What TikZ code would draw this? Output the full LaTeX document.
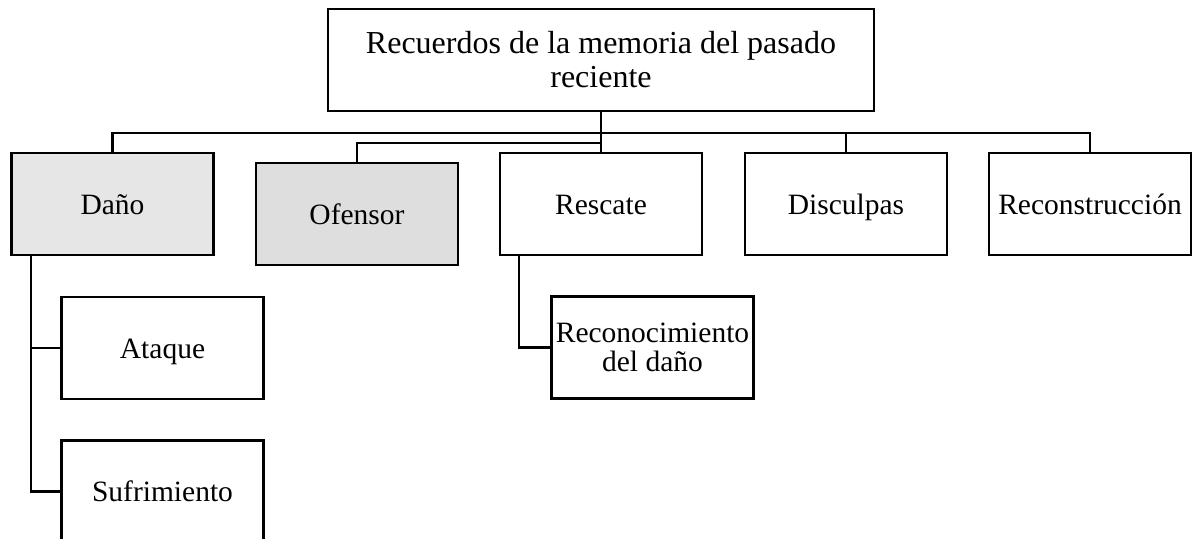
\documentclass[tikz,border=0pt]{standalone}
\usepackage{fontspec}
\setmainfont{Liberation Serif}
\definecolor{grisA}{HTML}{E6E6E6}
\definecolor{grisB}{HTML}{DEDEDE}
\begin{document}
\begin{tikzpicture}[x=1pt,y=-1pt,line width=2.2pt]
  \tikzstyle{caja}=[rectangle,draw=black,line width=2.6pt,minimum width=202pt,minimum height=102pt,inner sep=0pt,align=center,font=\fontsize{29.5}{29}\selectfont]
  \tikzstyle{linea}=[text height=20pt,text depth=0pt]
  \useasboundingbox (0,0) rectangle (1193,538);
  \clip (0,0) rectangle (1193,538);

  \node[caja,minimum width=546pt,font=\fontsize{32}{34}\selectfont] (A_0) at (601,60) {Recuerdos de la memoria del pasado\\reciente};
  \node[caja,linea,fill=grisA] (A_1) at (112.5,204) {Daño};
  \node[caja,linea,fill=grisB] (A_2) at (357,214)   {Ofensor};
  \node[caja,linea] (A_3) at (601,204)  {Rescate};
  \node[caja,linea] (A_4) at (846,204)  {Disculpas};
  \node[caja,linea] (A_5) at (1090,204) {Reconstrucción};

  \node[caja,linea] (B_1) at (162.5,348)   {Ataque};
  \node[caja,linea] (B_2) at (162.5,491.5) {Sufrimiento};
  \node[caja] (C_1) at (652.5,347.5) {Reconocimiento\\del daño};

  \coordinate (bus) at (601,133);
  \coordinate (bus2) at (601,143);
  \draw (A_0) -- (A_3);
  \draw (A_1.north) |- (bus) -| (A_5.north);
  \draw (A_4.north) -- (A_4.north |- bus);
  \draw (A_2.north) |- (bus2);

  \draw ([xshift=21pt]A_1.south west) |- (B_1.west);
  \draw ([xshift=21pt]A_1.south west) |- (B_2.west);
  \draw ([xshift=20pt]A_3.south west) |- (C_1.west);
\end{tikzpicture}
\end{document}
